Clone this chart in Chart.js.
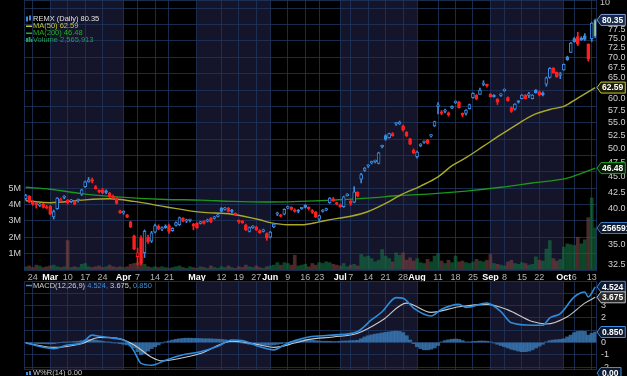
<!DOCTYPE html>
<html lang="en">
<head>
<meta charset="UTF-8">
<title>REMX (Daily)</title>
<script src="https://cdn.jsdelivr.net/npm/chart.js"></script>
<style>
  body { margin: 0; background: #000; width: 627px; height: 376px; overflow: hidden; position: relative; }
  #priceWrap { position: absolute; left: 0; top: 0; width: 627px; height: 281px; }
  #macdWrap { position: absolute; left: 0; top: 278px; width: 627px; height: 98px; }
</style>
</head>
<body>
<div id="priceWrap"><canvas id="priceChart"></canvas></div>
<div id="macdWrap"><canvas id="macdChart"></canvas></div>
<script>
// trading calendar
const firstDay = '2025-02-20', lastDay = '2025-10-14';
const holidays = ['2025-04-18', '2025-05-26', '2025-06-19', '2025-07-04', '2025-09-01'];

// x axis labels
const tickDates = ['2025-02-24','2025-03-03','2025-03-10','2025-03-17','2025-03-24','2025-04-01','2025-04-07','2025-04-14','2025-04-21',
  '2025-05-01','2025-05-12','2025-05-19','2025-05-27','2025-06-02','2025-06-09','2025-06-16','2025-06-23','2025-07-01','2025-07-07',
  '2025-07-14','2025-07-21','2025-07-28','2025-08-01','2025-08-11','2025-08-18','2025-08-25','2025-09-02','2025-09-08','2025-09-15',
  '2025-09-22','2025-10-01','2025-10-06','2025-10-13'];
const tickText = ['24','Mar','10','17','24','Apr','7','14','21','May','12','19','27','Jun','9','16','23','Jul','7',
  '14','21','28','Aug','11','18','25','Sep','8','15','22','Oct','6','13'];

// shaded months (first trading day of month -> first trading day of next)
const shadeFrom = ['2025-03-03', '2025-05-01', '2025-07-01', '2025-09-02'];
const shadeTo = ['2025-04-01', '2025-06-02', '2025-08-01', '2025-10-01'];

// price ticks (right axis)
const priceTicks = [32.5, 35, 37.5, 40, 42.5, 45, 47.5, 50, 52.5, 55, 57.5, 60, 62.5, 65, 67.5, 70, 72.5, 75, 77.5];
const macdTicks = [-2, -1, 0, 1, 2, 3, 4];

// daily OHLC
const open = [41.5,41.9,41.0,40.8,40.5,40.7,40.3,40.4,38.8,40.0, 41.2,41.7,41.3,41.1,41.1,41.2,42.2,43.4,44.2,44.5,
  43.4,42.7,42.9,42.6,42.4,41.9,41.6,39.7,39.4,39.1, 38.1,36.2,33.5,35.9,34.0,36.0,35.5,36.7,37.5,37.1,
  37.5,37.6,36.9,37.6,37.7,38.6,38.2,38.3,37.8,37.9, 37.9,38.2,38.2,38.6,38.6,38.9,40.1,39.9,40.1,39.7,
  39.3,38.2,38.1,37.7,36.8,37.3,37.4,36.9,36.8,36.5, 36.0,37.4,39.2,39.1,39.2,40.1,40.2,39.8,39.7,40.0,
  40.5,40.1,39.7,39.5,38.5,39.6,39.8,40.9,41.5,40.9, 40.6,40.3,42.0,41.1,41.0,42.5,44.6,46.1,46.8,47.4,
  47.6,47.3,50.3,52.4,52.0,52.8,54.7,54.7,54.3,53.1, 51.8,49.7,48.5,50.5,51.1,51.6,52.3,54.3,58.4,57.2,
  57.3,57.0,58.0,59.2,59.3,56.9,56.9,57.9,60.3,60.9, 61.0,63.3,63.1,61.1,60.8,60.0,60.8,61.9,60.3,58.1,
  57.8,59.4,60.1,60.9,60.8,60.1,62.0,61.6,61.4,63.4, 65.0,67.2,66.2,65.5,66.8,70.1,71.3,75.0,75.6,75.0,
  75.8,73.4,75.0,75.6];
const high = [42.2,42.0,41.2,40.9,40.8,40.8,40.5,40.5,39.8,41.7, 41.6,42.0,41.4,41.4,41.2,41.5,43.0,44.3,44.9,44.8,
  43.6,42.9,43.1,42.9,42.5,42.1,41.7,39.8,39.7,39.2, 38.2,36.3,34.6,36.2,37.0,36.3,36.8,37.8,37.7,37.4,
  37.7,37.8,37.3,38.1,38.8,38.7,38.5,38.5,37.9,38.0, 38.2,38.3,38.5,38.7,38.9,39.2,40.2,40.2,40.2,39.9,
  39.4,38.4,38.3,37.8,37.4,37.6,37.5,37.0,37.1,36.6, 36.8,37.9,39.5,39.2,40.0,40.4,40.3,40.0,39.9,40.2,
  40.6,40.3,39.9,39.6,39.1,39.9,40.1,41.7,41.7,41.0, 40.7,41.9,42.3,41.3,43.4,42.6,45.6,46.6,47.1,47.7,
  47.9,49.3,50.6,52.6,52.9,53.0,55.0,55.3,54.5,53.2, 51.9,49.9,49.5,50.9,51.4,51.7,52.6,55.3,59.2,57.5,
  57.8,57.2,58.5,59.6,59.5,57.0,57.7,58.9,61.4,61.0, 62.5,64.2,63.4,61.2,61.0,60.1,61.2,62.3,60.5,58.3,
  59.0,59.5,61.0,61.0,61.5,61.0,62.1,61.8,61.6,65.1, 67.4,67.4,66.3,66.2,68.3,70.3,74.0,75.3,76.8,75.5,
  76.4,73.6,79.6,80.6];
const low = [41.3,40.9,40.5,40.1,40.3,40.1,40.0,39.1,38.5,39.9, 41.0,41.5,40.7,40.9,40.6,41.0,42.0,43.3,44.1,44.0,
  43.0,42.4,42.3,42.3,41.7,41.5,40.7,39.3,39.2,38.7, 37.3,34.4,32.5,32.5,33.4,35.2,35.3,36.6,37.0,36.9,
  37.2,36.5,36.8,37.5,37.6,38.1,38.0,38.1,37.0,37.2, 37.8,37.8,38.1,38.0,38.5,38.8,39.5,39.8,39.5,39.4,
  39.0,37.9,37.9,36.9,36.7,37.2,36.9,36.5,36.7,35.6, 35.9,37.3,39.0,38.8,39.1,40.0,39.8,39.5,39.4,39.9,
  40.1,39.8,39.3,38.7,38.1,39.5,39.7,40.8,41.1,40.6, 40.2,40.2,41.9,40.5,40.9,41.8,44.0,45.9,46.6,47.2,
  47.4,47.2,50.1,51.5,51.9,52.3,54.4,54.6,53.3,52.2, 50.7,49.0,48.2,50.3,50.9,50.8,52.1,54.2,56.8,56.6,
  57.0,56.3,57.9,59.0,58.0,56.2,56.5,57.8,60.2,59.8, 61.0,63.0,62.7,60.4,60.4,58.8,60.6,61.7,59.5,57.1,
  57.6,59.1,60.0,60.0,60.3,60.0,61.3,60.7,60.7,62.9, 64.8,66.0,65.0,64.7,66.7,69.2,71.2,74.0,73.1,74.5,
  74.5,69.0,74.2,75.2];
const close = [42.0,41.0,40.7,40.6,40.6,40.2,40.1,39.2,39.6,41.6, 41.4,41.8,40.9,41.2,40.7,41.3,42.9,44.2,44.5,44.3,
  43.1,42.6,42.4,42.5,41.8,41.6,40.8,39.4,39.5,38.8, 37.4,34.5,34.0,32.7,36.8,35.4,36.6,37.6,37.1,37.2,
  37.3,36.8,37.2,38.0,38.7,38.2,38.3,38.3,37.5,37.3, 38.0,37.9,38.3,38.1,38.8,39.1,39.6,40.0,39.6,39.6,
  39.1,38.1,38.0,37.0,37.3,37.4,37.0,36.6,36.9,35.9, 36.7,37.8,39.3,38.9,39.9,40.2,39.9,39.6,39.6,40.1,
  40.2,40.0,39.5,38.8,39.0,39.7,39.9,41.6,41.2,40.7, 40.3,41.8,42.1,40.8,42.6,41.9,45.4,46.5,47.0,47.5,
  47.7,49.2,50.4,51.7,52.8,52.4,54.7,55.1,53.5,52.4, 50.8,49.2,49.3,50.8,51.2,50.9,52.4,55.2,58.6,56.9,
  57.4,56.6,58.4,59.3,58.1,56.5,57.6,58.8,61.3,60.0, 62.0,63.5,63.0,60.5,60.5,59.3,61.0,62.0,59.6,57.3,
  58.9,59.3,60.9,60.1,60.9,60.9,61.4,60.9,60.9,64.9, 67.2,66.1,65.1,65.6,68.2,69.4,73.8,74.1,73.5,74.7,
  74.8,69.5,79.4,80.35];
// daily volume, millions
const volume = [0.20,0.25,0.15,0.30,0.25,0.15,0.20,0.25,0.30,0.20, 0.15,0.20,1.80,0.15,0.20,0.15,0.35,0.40,0.20,0.15,
  0.20,0.25,0.15,0.20,0.30,0.20,0.15,0.20,0.15,0.20, 0.35,0.40,0.45,0.40,0.35,0.20,0.15,0.20,0.15,0.20,
  0.15,0.10,0.15,0.20,0.25,0.15,0.10,0.20,0.15,0.10, 0.20,0.15,0.10,0.25,0.15,0.10,0.20,0.15,0.25,0.15,
  0.10,0.20,0.15,0.30,0.20,0.15,0.25,0.15,0.10,0.20, 0.25,0.30,0.45,0.30,0.45,0.40,0.30,0.90,0.25,0.30,
  0.35,0.20,0.40,0.30,0.45,0.40,0.50,0.45,0.35,0.30, 0.25,0.40,0.20,0.30,0.35,0.25,0.95,0.80,0.85,0.70,
  0.50,0.60,1.25,0.85,0.70,0.50,1.05,0.90,1.05,0.60, 0.75,0.55,0.70,0.45,0.40,0.65,0.50,0.85,1.00,0.55,
  0.40,0.60,0.45,0.85,0.50,0.55,0.45,0.40,0.50,0.65, 0.55,0.50,0.60,0.95,0.40,0.35,0.30,0.25,0.50,0.60,
  0.40,0.35,0.45,0.40,0.30,0.35,0.80,0.60,0.55,1.28, 1.80,0.70,0.55,0.65,1.40,1.60,1.55,1.50,2.00,1.60,
  1.85,3.20,4.40,2.566];

// moving averages, read at sample trading days
const ma50Day = [0,7,16,24,31,40,50,59,67,70,75,79,84,88,93,98,103,107,113,118,122,126,131,136,141,145,151,154,158,163];
const ma50Val = [41.2,40.9,41.3,41.5,41.1,40.3,39.5,39.2,38.4,38.0,37.7,37.7,38.1,38.5,38.9,39.6,40.8,42.0,43.5,45.0,46.9,48.3,50.4,52.6,54.8,56.5,57.9,58.4,60.2,62.59];
const ma200Day = [0,7,16,26,40,50,59,69,84,88,98,107,117,126,136,145,155,163];
const ma200Val = [43.3,43.0,42.3,41.8,41.4,41.3,41.1,41.0,41.2,41.3,41.6,42.0,42.3,42.7,43.3,44.0,44.8,46.48];

// MACD(12,26,9)
const macdDay = [0,8,12,16,19,21,25,29,31,33,36,40,45,50,55,59,62,67,71,74,77,81,88,95,99,102,106,108,111,116,119,124,126,132,136,139,145,148,150,153,157,160,161,163];
const macdVal = [-0.05,-0.5,-0.2,-0.05,0.6,0.5,0.35,0.05,-0.7,-1.7,-1.85,-1.45,-1.0,-0.75,-0.3,0.2,0.15,-0.35,-0.6,-0.2,0.15,0.45,0.6,0.9,1.85,2.5,3.65,3.6,2.8,2.15,2.7,3.1,2.85,3.2,2.5,1.6,1.4,1.4,2.0,2.35,3.7,4.1,3.7,4.524];
const sigDay = [0,8,16,21,26,31,36,39,45,50,59,67,71,77,81,88,95,102,109,116,124,132,138,145,149,155,160,163];
const sigVal = [-0.05,-0.4,-0.1,0.4,0.35,-0.2,-1.2,-1.5,-1.25,-0.9,0.1,-0.2,-0.4,-0.05,0.25,0.45,0.75,1.8,3.2,2.45,2.9,3.1,2.65,1.7,1.5,2.1,3.2,3.675];
const hist = [0,-0.02,-0.05,-0.08,-0.1,-0.1,-0.12,-0.12, -0.1,-0.05,0,0.02,0.03,0.05,0.08,0.1,
  0.15,0.2,0.25,0.25,0.2,0.15,0.1, 0.05,0.02,-0.02,-0.05,-0.1,-0.15,-0.2,-0.3,
  -0.45,-0.75,-1.0,-0.9,-0.7,-0.5,-0.35,-0.2,-0.05,
  0.05,0.12,0.2,0.26,0.3,0.33,0.35,0.35,0.34,0.33,0.32,0.3,0.3,0.3,0.28,0.27,0.25,0.22,0.18,0.12,
  0.05,0,-0.05,-0.1,-0.15,-0.17,-0.18,-0.18,-0.2,-0.22,-0.22,-0.2,-0.15,-0.1,-0.05,0,
  0.05,0.1,0.15,0.2,0.22,0.2,0.18,0.15,0.12,0.1,0.1,0.1,0.08,0.08,
  0.1,0.12,0.12,0.15,0.15,0.18,
  0.3,0.45,0.55,0.62,0.68,0.72,0.78,0.82,0.86,0.9,0.92,0.9,0.8,0.55,
  0.2,-0.1,-0.35,-0.5,-0.6,-0.6,-0.55,-0.45,-0.25,
  0.05,0.15,0.22,0.26,0.28,0.25,0.15,0.05,
  0.05,0.08,0.1,0.12,0.12,0.1,0.05,
  -0.05,-0.15,-0.25,-0.35,-0.45,-0.55,-0.62,-0.7,-0.75,-0.75,-0.7,-0.6,-0.45,-0.3,-0.15,
  0.05,0.15,0.2,0.22,0.25,0.3,0.45,0.6,0.8,0.9,0.92,0.9,0.6,0.75,0.85];

const lastPrice = 80.35, lastMa50 = 62.59, lastMa200 = 46.48, lastVolume = 2565913;
const lastMacd = 4.524, lastSignal = 3.675, lastHist = 0.850;

// ---------------------------------------------------------------
const FONT = "'Liberation Sans', Arial, sans-serif";
Chart.defaults.font.family = FONT;
const GRID = 'rgba(30,54,94,0.8)';
const SHADE = 'rgb(20,20,42)';
const BLUE = '#3b8ae0', RED = '#ff1f1f';

const days = [];
for (let d = new Date(firstDay + 'T12:00:00Z'); d <= new Date(lastDay + 'T12:00:00Z'); d.setUTCDate(d.getUTCDate() + 1)) {
  const wd = d.getUTCDay(), s = d.toISOString().slice(0, 10);
  if (wd > 0 && wd < 6 && !holidays.includes(s)) days.push(s);
}
const tickAt = days.map(d => { const k = tickDates.indexOf(d); return k < 0 ? '' : tickText[k]; });
const last = days.length - 1;
const up = close.map((c, i) => i === 0 ? c >= open[0] : c >= close[i - 1]);
const candleColor = c => up[c.dataIndex] ? BLUE : RED;
const pts = (dayIdx, vals) => dayIdx.map((d, k) => ({ x: days[d], y: vals[k] }));

function xAxis(showLabels) {
  return {
    type: 'category', offset: true,
    grid: { color: c => tickAt[c.index] ? GRID : 'transparent', drawTicks: false, offset: false },
    border: { display: false },
    ticks: {
      display: showLabels, autoSkip: false, maxRotation: 0, minRotation: 0, padding: 2,
      callback: (v, i) => tickAt[i],
      color: c => /^[A-Z]/.test(tickAt[c.index]) ? '#ffffff' : '#b4b4b4',
      font: c => ({ size: 9, weight: /^[A-Z]/.test(tickAt[c.index]) ? 'bold' : 'normal' })
    },
    afterFit: s => { s.height = showLabels ? 11 : 0; s.paddingLeft = 0; s.paddingRight = 0; }
  };
}

function shadeMonths(chart) {
  const { ctx, chartArea: a, scales: { x } } = chart;
  ctx.save();
  ctx.fillStyle = SHADE;
  shadeFrom.forEach((f, k) => {
    const x0 = x.getPixelForValue(days.indexOf(f));
    const x1 = x.getPixelForValue(days.indexOf(shadeTo[k]));
    ctx.fillRect(x0, a.top, x1 - x0, a.bottom - a.top);
  });
  ctx.restore();
}

function tag(ctx, x, y, text, stroke, fill, color) {
  ctx.save();
  ctx.font = 'bold 8.5px ' + FONT;
  const w = Math.max(24, ctx.measureText(text).width + 7);
  ctx.beginPath();
  ctx.moveTo(x, y);
  ctx.lineTo(x + 4, y - 5.5);
  ctx.lineTo(x + w, y - 5.5);
  ctx.lineTo(x + w, y + 5.5);
  ctx.lineTo(x + 4, y + 5.5);
  ctx.closePath();
  ctx.fillStyle = fill; ctx.fill();
  ctx.strokeStyle = stroke; ctx.lineWidth = 1; ctx.stroke();
  ctx.fillStyle = color; ctx.textBaseline = 'middle'; ctx.textAlign = 'left';
  ctx.fillText(text, x + 5, y + 0.5);
  ctx.restore();
}

function frame(chart) {
  const { ctx, chartArea: a } = chart;
  ctx.save();
  ctx.strokeStyle = GRID; ctx.lineWidth = 1;
  ctx.strokeRect(a.left + 0.5, a.top + 0.5, a.right - a.left - 1, a.bottom - a.top - 1);
  ctx.restore();
}

const pricePaint = {
  id: 'pricePaint',
  beforeDraw: shadeMonths,
  afterDraw(chart) {
    const { ctx, chartArea: a, scales: { y, yv } } = chart;
    frame(chart);
    ctx.save();
    ctx.font = '7.5px ' + FONT;
    ctx.textBaseline = 'middle';
    const lx = a.left + 2, tx = a.left + 9;
    // REMX
    ctx.fillStyle = BLUE; ctx.fillRect(lx, 16.5, 2, 5); ctx.fillRect(lx + 3, 15.5, 2, 5);
    ctx.fillStyle = '#e0e0e0'; ctx.fillText('REMX (Daily) ' + lastPrice.toFixed(2), tx, 19);
    ctx.fillStyle = '#c8c832'; ctx.fillRect(lx, 25.5, 6, 1.5); ctx.fillText('MA(50) ' + lastMa50.toFixed(2), tx, 26);
    ctx.fillStyle = '#22b022'; ctx.fillRect(lx, 32.5, 6, 1.5); ctx.fillText('MA(200) ' + lastMa200.toFixed(2), tx, 33);
    ctx.fillStyle = '#1f9a5a'; ctx.fillRect(lx, 38, 2, 4); ctx.fillRect(lx + 2.5, 37, 2, 5); ctx.fillRect(lx + 5, 39, 1.5, 3);
    ctx.fillText('Volume ' + lastVolume.toLocaleString('en-US'), tx, 40);
    // partial label of the pane above
    ctx.font = '9px ' + FONT; ctx.fillStyle = '#c8c8c8';
    ctx.fillText('10', a.right + 3, 3);
    ctx.restore();
    tag(ctx, a.right, y.getPixelForValue(lastPrice), lastPrice.toFixed(2), '#7d9ad4', '#17284a', '#ffffff');
    tag(ctx, a.right, y.getPixelForValue(lastMa50), lastMa50.toFixed(2), '#c8c832', '#1c1c08', '#ffffff');
    tag(ctx, a.right, y.getPixelForValue(lastMa200), lastMa200.toFixed(2), '#22a022', '#081c08', '#ffffff');
    tag(ctx, a.right, yv.getPixelForValue(lastVolume / 1e6), String(lastVolume), '#3a78c0', '#0c1a30', '#ffffff');
  }
};

new Chart(document.getElementById('priceChart'), {
  type: 'bar',
  data: {
    labels: days,
    datasets: [
      {
        label: 'REMX', data: open.map((o, i) => [o, close[i]]), yAxisID: 'y', order: 1, grouped: false,
        barThickness: 3, borderWidth: 1, borderSkipped: false, minBarLength: 1.5,
        borderColor: candleColor,
        backgroundColor: c => c.dataIndex === last ? '#c8c832'
          : (close[c.dataIndex] < open[c.dataIndex] ? (up[c.dataIndex] ? BLUE : RED) : 'rgba(0,0,0,0.9)')
      },
      {
        label: 'Range', data: low.map((l, i) => [l, high[i]]), yAxisID: 'y', order: 2, grouped: false,
        barThickness: 1, backgroundColor: candleColor
      },
      {
        type: 'line', label: 'MA(50)', data: pts(ma50Day, ma50Val), yAxisID: 'y', order: 3,
        borderColor: '#a8a82a', borderWidth: 1.4, pointRadius: 0, cubicInterpolationMode: 'monotone'
      },
      {
        type: 'line', label: 'MA(200)', data: pts(ma200Day, ma200Val), yAxisID: 'y', order: 4,
        borderColor: '#1c961c', borderWidth: 1.4, pointRadius: 0, cubicInterpolationMode: 'monotone'
      },
      {
        label: 'Volume', data: volume, yAxisID: 'yv', order: 9, grouped: false, barThickness: 3,
        backgroundColor: c => up[c.dataIndex] ? 'rgba(22,115,68,0.6)' : 'rgba(125,68,68,0.6)'
      }
    ]
  },
  options: {
    responsive: true, maintainAspectRatio: false, animation: false,
    layout: { padding: 0 },
    plugins: { legend: { display: false }, tooltip: { enabled: false } },
    scales: {
      x: xAxis(true),
      y: {
        type: 'logarithmic', position: 'right', min: 31.9, max: 86.5,
        afterBuildTicks: s => { s.ticks = priceTicks.map(v => ({ value: v })); },
        afterFit: s => { s.width = 30; s.paddingTop = 0; s.paddingBottom = 0; },
        grid: { display: false }, border: { display: false },
        ticks: { autoSkip: false, padding: 3, color: '#d2d2d2', font: { size: 9 }, callback: v => v.toFixed(1) }
      },
      yv: {
        type: 'linear', position: 'left', min: 0, max: 16.5,
        afterBuildTicks: s => { s.ticks = Array.from({ length: 17 }, (_, k) => ({ value: k })); },
        afterFit: s => { s.width = 24; s.paddingTop = 0; s.paddingBottom = 0; },
        grid: { color: GRID, drawTicks: false }, border: { display: false },
        ticks: { autoSkip: false, padding: 3, color: '#d2d2d2', font: { size: 9 },
          callback: v => (v >= 1 && v <= 5) ? v + 'M' : '' }
      }
    }
  },
  plugins: [pricePaint]
});

const macdPaint = {
  id: 'macdPaint',
  beforeDraw: shadeMonths,
  afterDraw(chart) {
    const { ctx, chartArea: a, scales: { y } } = chart;
    frame(chart);
    ctx.save();
    ctx.font = '7.5px ' + FONT;
    ctx.textBaseline = 'middle';
    let x = a.left + 9;
    const ty = a.top + 4.5;
    ctx.fillStyle = '#3c8fe0'; ctx.fillRect(a.left + 2, ty - 0.75, 6, 1.5);
    const parts = [['MACD(12,26,9) ', '#d0d0d0'], [lastMacd.toFixed(3) + ', ', '#3c8fe0'],
      [lastSignal.toFixed(3) + ', ', '#d0d0d0'], [lastHist.toFixed(3), '#3c8fe0']];
    parts.forEach(([t, c]) => { ctx.fillStyle = c; ctx.fillText(t, x, ty); x += ctx.measureText(t).width; });
    // Williams %R pane heading below
    const wy = a.bottom + 3;
    ctx.fillStyle = '#3c8fe0'; ctx.fillRect(a.left + 2, wy - 1, 2, 3); ctx.fillRect(a.left + 5, wy - 2, 2, 4);
    ctx.fillStyle = '#c8c8c8'; ctx.fillText('W%R(14) 0.00', a.left + 9, wy);
    ctx.restore();
    tag(ctx, a.right, y.getPixelForValue(lastMacd), lastMacd.toFixed(3), '#3c8fe0', '#0e1a30', '#ffffff');
    tag(ctx, a.right, y.getPixelForValue(lastSignal), lastSignal.toFixed(3), '#c0c0c0', '#2a2a2a', '#ffffff');
    tag(ctx, a.right, y.getPixelForValue(lastHist), lastHist.toFixed(3), '#3c8fe0', '#0e1a30', '#ffffff');
    tag(ctx, a.right, a.bottom + 3, '0.00', '#3c8fe0', '#0e1a30', '#ffffff');
  }
};

new Chart(document.getElementById('macdChart'), {
  type: 'bar',
  data: {
    labels: days,
    datasets: [
      {
        type: 'line', label: 'MACD', data: pts(macdDay, macdVal), order: 1,
        borderColor: '#2f8cdc', borderWidth: 1.6, pointRadius: 0, cubicInterpolationMode: 'monotone'
      },
      {
        type: 'line', label: 'Signal', data: pts(sigDay, sigVal), order: 2,
        borderColor: '#c8c8c8', borderWidth: 1.1, pointRadius: 0, cubicInterpolationMode: 'monotone'
      },
      {
        label: 'Histogram', data: hist, order: 3, grouped: false,
        barPercentage: 1, categoryPercentage: 1, backgroundColor: 'rgba(58,122,182,0.8)'
      }
    ]
  },
  options: {
    responsive: true, maintainAspectRatio: false, animation: false,
    layout: { padding: { left: 24, top: 3, bottom: 6, right: 0 } },
    plugins: { legend: { display: false }, tooltip: { enabled: false } },
    scales: {
      x: xAxis(false),
      y: {
        type: 'linear', position: 'right', min: -2.24, max: 5.0,
        afterBuildTicks: s => { s.ticks = macdTicks.map(v => ({ value: v })); },
        afterFit: s => { s.width = 30; s.paddingTop = 0; s.paddingBottom = 0; },
        grid: { color: GRID, drawTicks: false }, border: { display: false },
        ticks: { autoSkip: false, padding: 4, color: '#d2d2d2', font: { size: 9 } }
      }
    }
  },
  plugins: [macdPaint]
});
</script>
</body>
</html>
